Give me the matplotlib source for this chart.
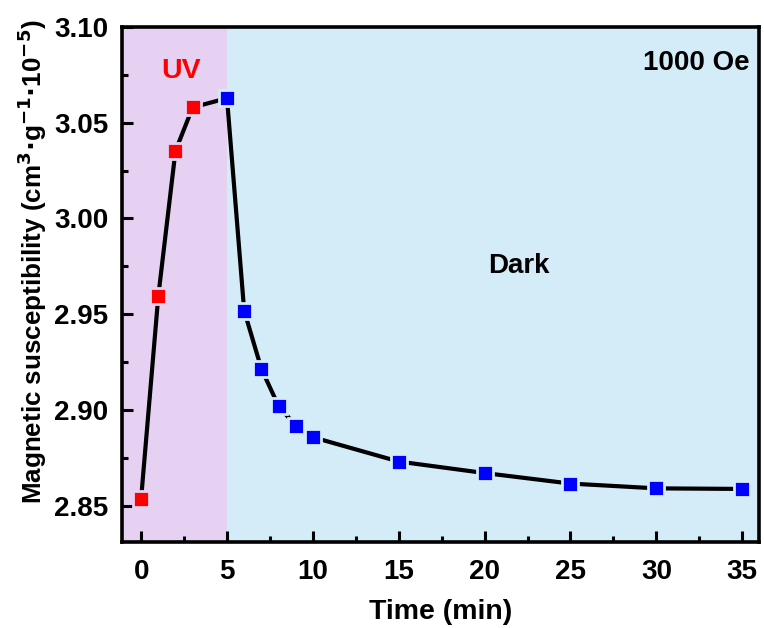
import numpy as np
import matplotlib.pyplot as plt
from matplotlib.ticker import MultipleLocator

plt.rcParams['font.family'] = ['Liberation Sans', 'DejaVu Sans']
plt.rcParams['font.weight'] = 'bold'

# Data
time_min = [0, 1, 2, 3, 5, 6, 7, 8, 9, 10, 15, 20, 25, 30, 35]
chi = [2.8537, 2.9595, 3.0353, 3.0580, 3.0628, 2.9518, 2.9215, 2.9020,
       2.8918, 2.8857, 2.8730, 2.8670, 2.8615, 2.8590, 2.8587]
uv_end = 5
uv_color = '#E6D1F2'
dark_color = '#D4EBF8'

time_arr = np.array(time_min)
chi_arr = np.array(chi)
is_uv = time_arr < uv_end

fig = plt.figure(figsize=(7.64, 6.28), dpi=100)
ax = fig.add_axes([0.16, 0.137, 0.834, 0.82])

xmin, xmax = -1.1, 36
ax.axvspan(xmin, uv_end, color=uv_color, zorder=0, lw=0)
ax.axvspan(uv_end, xmax, color=dark_color, zorder=0, lw=0)

ax.plot(time_arr, chi_arr, color='black', lw=3, zorder=2)
# markers with a halo in the background colour (gap between line and marker)
ax.plot(time_arr[is_uv], chi_arr[is_uv], 's', ms=11, color='red',
        mec=uv_color, mew=2, zorder=3)
ax.plot(time_arr[~is_uv], chi_arr[~is_uv], 's', ms=11, color='blue',
        mec=dark_color, mew=2, zorder=3)

ax.set_xlim(xmin, xmax)
ax.set_ylim(2.831, 3.10)
ax.xaxis.set_major_locator(MultipleLocator(5))
ax.xaxis.set_minor_locator(MultipleLocator(2.5))
ax.yaxis.set_major_locator(MultipleLocator(0.05))
ax.yaxis.set_minor_locator(MultipleLocator(0.025))
ax.yaxis.set_major_formatter(plt.FormatStrFormatter('%.2f'))

ax.tick_params(which='both', direction='in', width=2.2, labelsize=20)
ax.tick_params(which='major', length=8)
ax.tick_params(which='minor', length=4.5)
ax.tick_params(axis='x', which='major', pad=12)
ax.tick_params(axis='y', which='major', pad=10)
for s in ax.spines.values():
    s.set_linewidth(2.6)

ax.set_xlabel('Time (min)', fontsize=20.5, fontweight='bold', labelpad=10)
ax.set_ylabel(r'Magnetic susceptibility (cm$^{\mathbf{3}}$$\cdot$g$^{\mathbf{-1}}$$\cdot$10$^{\mathbf{-5}}$)',
              fontsize=18.7, fontweight='bold', labelpad=4)
ax.yaxis.label.set_y(0.545)

ax.text(2.3, 3.077, 'UV', color='red', fontsize=20.5, fontweight='bold',
        ha='center', va='center')
ax.text(22.0, 2.975, 'Dark', color='black', fontsize=20, fontweight='bold',
        ha='center', va='center')
ax.text(0.985, 0.93, '1000 Oe', color='black', fontsize=20, fontweight='bold',
        ha='right', va='center', transform=ax.transAxes)

fig.savefig('out.png', dpi=100)
